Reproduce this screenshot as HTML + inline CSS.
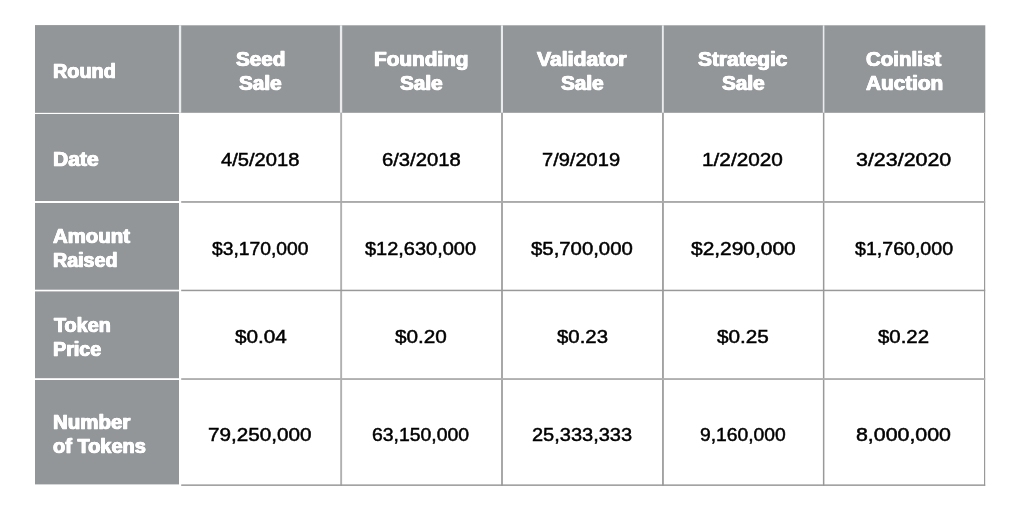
<!DOCTYPE html>
<html lang="en">
<head>
<meta charset="utf-8">
<title>Token Sale Rounds</title>
<style>
html,body{margin:0;padding:0;background:#fff;}
body{width:1028px;height:526px;position:relative;overflow:hidden;font-family:"Liberation Sans",sans-serif;}
.t{position:absolute;white-space:nowrap;line-height:24px;transform-origin:0 50%;}
.h{color:#fff;font-weight:bold;font-size:19.3px;-webkit-text-stroke:0.6px #fff;text-shadow:0.5px 0 0 #fff,-0.5px 0 0 #fff;}
.d{color:#000;font-size:19px;-webkit-text-stroke:0.5px #000;}
</style>
</head>
<body>
<div id="table" role="table" aria-label="Token sale rounds">

<svg id="grid" width="1028" height="526" viewBox="0 0 1028 526" style="position:absolute;left:0;top:0;" aria-hidden="true">
<!-- header band -->
<rect x="35" y="25.3" width="950.3" height="87.5" fill="#929699"/>
<!-- first column blocks -->
<rect x="35" y="25.3" width="144" height="86.9" fill="#929699"/>
<rect x="35" y="114" width="144" height="87" fill="#929699"/>
<rect x="35" y="203" width="144" height="86.7" fill="#929699"/>
<rect x="35" y="291.4" width="144" height="86.8" fill="#929699"/>
<rect x="35" y="380" width="144" height="104.4" fill="#929699"/>
<!-- header separators -->
<rect x="178.9" y="25.3" width="2.3" height="87.5" fill="#e9ebed"/>
<rect x="339.9" y="25.3" width="2.3" height="87.5" fill="#e9ebed"/>
<rect x="500.9" y="25.3" width="2.1" height="87.5" fill="#e9ebed"/>
<rect x="661.9" y="25.3" width="1.9" height="87.5" fill="#e9ebed"/>
<rect x="822.8" y="25.3" width="1.6" height="87.5" fill="#e9ebed"/>
<!-- body grid lines -->
<rect x="340.2" y="112.8" width="1.9" height="373.1" fill="#b0b0b0"/>
<rect x="501.0" y="112.8" width="2.0" height="373.1" fill="#a8a8a8"/>
<rect x="662.0" y="112.8" width="1.9" height="373.1" fill="#a2a2a2"/>
<rect x="822.9" y="112.8" width="1.5" height="373.1" fill="#999"/>
<rect x="984.0" y="112.8" width="1.2" height="373.1" fill="#999"/>
<rect x="181.2" y="201.0" width="804" height="1.9" fill="#aaa"/>
<rect x="181.2" y="289.7" width="804" height="1.5" fill="#999"/>
<rect x="181.2" y="378.1" width="804" height="1.9" fill="#b0b0b0"/>
<rect x="181.2" y="484.4" width="804" height="1.5" fill="#999"/>
</svg>
<!-- text -->
<div role="row">
<div role="columnheader"><span class="t h" style="left:53.07px;top:59.90px;transform:scaleX(1.0286);">Round</span></div>
<div role="columnheader"><span class="t h" style="left:235.91px;top:47.90px;transform:scaleX(1.0735);">Seed</span> <span class="t h" style="left:239.16px;top:71.90px;transform:scaleX(1.0754);">Sale</span></div>
<div role="columnheader"><span class="t h" style="left:374.41px;top:47.90px;transform:scaleX(1.0760);">Founding</span> <span class="t h" style="left:400.16px;top:71.90px;transform:scaleX(1.0754);">Sale</span></div>
<div role="columnheader"><span class="t h" style="left:537.29px;top:47.90px;transform:scaleX(1.1004);">Validator</span> <span class="t h" style="left:561.16px;top:71.90px;transform:scaleX(1.0754);">Sale</span></div>
<div role="columnheader"><span class="t h" style="left:698.37px;top:47.90px;transform:scaleX(1.0840);">Strategic</span> <span class="t h" style="left:722.16px;top:71.90px;transform:scaleX(1.0754);">Sale</span></div>
<div role="columnheader"><span class="t h" style="left:866.43px;top:47.90px;transform:scaleX(1.0635);">Coinlist</span> <span class="t h" style="left:865.85px;top:71.90px;transform:scaleX(1.0765);">Auction</span></div>
</div>
<div role="row">
<div role="rowheader"><span class="t h" style="left:52.75px;top:147.90px;transform:scaleX(1.0917);">Date</span></div>
<div role="cell"><span class="t d" style="left:221.42px;top:147.90px;transform:scaleX(1.0596);">4/5/2018</span></div>
<div role="cell"><span class="t d" style="left:382.04px;top:147.90px;transform:scaleX(1.0642);">6/3/2018</span></div>
<div role="cell"><span class="t d" style="left:542.23px;top:147.90px;transform:scaleX(1.0551);">7/9/2019</span></div>
<div role="cell"><span class="t d" style="left:701.50px;top:147.90px;transform:scaleX(1.0937);">1/2/2020</span></div>
<div role="cell"><span class="t d" style="left:855.77px;top:147.90px;transform:scaleX(1.1271);">3/23/2020</span></div>
</div>
<div role="row">
<div role="rowheader"><span class="t h" style="left:53.02px;top:224.90px;transform:scaleX(1.0562);">Amount</span> <span class="t h" style="left:53.10px;top:248.90px;transform:scaleX(1.0196);">Raised</span></div>
<div role="cell"><span class="t d" style="left:212.35px;top:236.90px;transform:scaleX(1.0132);">$3,170,000</span></div>
<div role="cell"><span class="t d" style="left:365.20px;top:236.90px;transform:scaleX(1.0505);">$12,630,000</span></div>
<div role="cell"><span class="t d" style="left:530.88px;top:236.90px;transform:scaleX(1.0707);">$5,700,000</span></div>
<div role="cell"><span class="t d" style="left:690.88px;top:236.90px;transform:scaleX(1.1011);">$2,290,000</span></div>
<div role="cell"><span class="t d" style="left:854.77px;top:236.90px;transform:scaleX(1.0311);">$1,760,000</span></div>
</div>
<div role="row">
<div role="rowheader"><span class="t h" style="left:53.74px;top:313.90px;transform:scaleX(1.0253);">Token</span> <span class="t h" style="left:53.08px;top:337.90px;transform:scaleX(1.0248);">Price</span></div>
<div role="cell"><span class="t d" style="left:234.82px;top:324.90px;transform:scaleX(1.0906);">$0.04</span></div>
<div role="cell"><span class="t d" style="left:395.37px;top:324.90px;transform:scaleX(1.0907);">$0.20</span></div>
<div role="cell"><span class="t d" style="left:556.89px;top:324.90px;transform:scaleX(1.0717);">$0.23</span></div>
<div role="cell"><span class="t d" style="left:717.37px;top:324.90px;transform:scaleX(1.0912);">$0.25</span></div>
<div role="cell"><span class="t d" style="left:878.38px;top:324.90px;transform:scaleX(1.0742);">$0.22</span></div>
</div>
<div role="row">
<div role="rowheader"><span class="t h" style="left:52.91px;top:410.90px;transform:scaleX(1.0616);">Number</span> <span class="t h" style="left:53.15px;top:434.90px;transform:scaleX(1.0361);">of Tokens</span></div>
<div role="cell"><span class="t d" style="left:208.16px;top:422.90px;transform:scaleX(1.0871);">79,250,000</span></div>
<div role="cell"><span class="t d" style="left:371.87px;top:422.90px;transform:scaleX(1.0205);">63,150,000</span></div>
<div role="cell"><span class="t d" style="left:532.13px;top:422.90px;transform:scaleX(1.0525);">25,333,333</span></div>
<div role="cell"><span class="t d" style="left:699.69px;top:422.90px;transform:scaleX(1.0144);">9,160,000</span></div>
<div role="cell"><span class="t d" style="left:855.59px;top:422.90px;transform:scaleX(1.1236);">8,000,000</span></div>
</div>
</div>
</body>
</html>
